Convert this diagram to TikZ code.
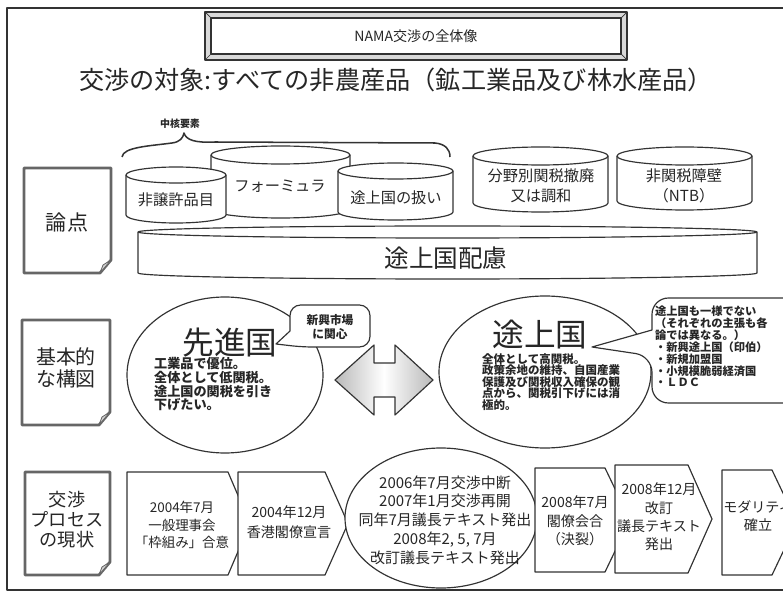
\documentclass[tikz,border=0pt]{standalone}
\usepackage{fontspec}
\setmainfont{Noto Sans CJK JP}
\usetikzlibrary{calc}
\newcommand\fsz[2]{\fontsize{#1}{#2}\selectfont}
\newcommand\cyl[5]{%
  \pgfmathsetmacro\cylrx{(#2-#1)/2}%
  \draw[cylbody] (#1,#3) -- (#1,#4) arc[start angle=180,end angle=0,x radius=\cylrx,y radius=#5] -- (#2,#3) arc[start angle=0,end angle=-180,x radius=\cylrx,y radius=#5] -- cycle;
  \draw[ln] (#1,#3) arc[start angle=180,end angle=0,x radius=\cylrx,y radius=#5];
}
\newcommand\docbox[4]{%
  \draw[docframe] (#1,#2) -- (#3,#2) -- (#3,#4-13) -- (#3-11,#4) -- (#1,#4) -- cycle;
  \draw[fill=gray!35, draw=black!60, line width=0.7pt] (#3,#4-13) -- (#3-8,#4-8) -- (#3-11,#4) -- cycle;
}
\newcommand\home[5]{%
  \draw[ln, fill=white] (#1,#2) -- (#4,#2) -- (#5,{(#2+#3)/2}) -- (#4,#3) -- (#1,#3) -- cycle;
}
\begin{document}
\begin{tikzpicture}[x=0.03cm,y=-0.03cm, line join=round,
  ln/.style={draw=black!80, line width=1pt},
  cylbody/.style={ln, fill=white},
  docframe/.style={draw=black!60, line width=2.4pt, fill=white},
  every node/.style={inner sep=0pt, align=center, text=black!85}]
\useasboundingbox (0,0) rectangle (783,598);
% outer frame
\draw[ln] (800,8) -- (7,8) -- (7,590) -- (800,590);
% title
\path[fill=gray!30] (205,12) rectangle (627,60);
\path[fill=white] (211,18) rectangle (621,54);
\draw[ln] (205,12) rectangle (627,60);
\draw[ln] (211,18) rectangle (621,54);
\draw[ln, line width=0.6pt] (205,12)--(211,18) (627,12)--(621,18) (205,60)--(211,54) (627,60)--(621,54);
\node[font={\fsz{12}{14}}] (title) at (416,36) {NAMA交渉の全体像};
\node[font={\fsz{21.5}{24}}] (sub) at (396,80) {交渉の対象:すべての非農産品（鉱工業品及び林水産品）};
% brace
\node[font={\fsz{8.5}{10}\bfseries}] (core) at (180,124) {中核要素};
\draw[ln, line width=1.3pt] (122,157) .. controls (123,147) and (150,146) .. (172,143) .. controls (180,142) and (183,138) .. (184,133) .. controls (186,140) and (195,143) .. (215,142) -- (435,143) .. controls (445,144) and (450,149) .. (450,157);
% cylinders
\cyl{211}{350}{155}{209}{9}
\node[font={\fsz{13}{15}}] (formula) at (280,186) {フォーミュラ};
\cyl{126}{226}{175}{215}{8}
\node[font={\fsz{13}{15}}] (hijo) at (176,200) {非譲許品目};
\cyl{338}{453}{171}{212}{8}
\node[font={\fsz{13}{15}}] (tojo) at (396,198) {途上国の扱い};
\cyl{473}{608}{156}{203}{9}
\node[font={\fsz{13}{17}}] (bunya) at (541,186) {分野別関税撤廃\\又は調和};
\cyl{617}{752}{156}{201}{9}
\node[font={\fsz{13}{17}}] (ntb) at (684,186) {非関税障壁\\（NTB）};
\cyl{138}{757}{232}{273}{6}
\node[font={\fsz{21}{24}}] (hairyo) at (446,258) {途上国配慮};
% doc labels
\docbox{24}{168}{111}{273}
\node[font={\fsz{18}{20}}] (l1) at (67,222) {論点};
\docbox{22}{320}{110}{425}
\node[font={\fsz{17}{19}}] (l2) at (66,368) {基本的\\な構図};
\docbox{25}{472}{110}{575}
\node[font={\fsz{15.5}{17}}] (l3) at (67,520) {交渉\\プロセス\\の現状};
% developed countries
\draw[ln, fill=white] (225,375) ellipse [x radius=98, y radius=78];
\node[font={\fsz{27}{30}}] (senshin) at (230,343) {先進国};
\node[anchor=north west, align=left, font={\fsz{11.2}{11.8}\bfseries}] (senbody) at (154,357) {工業品で優位。\\全体として低関税。\\途上国の関税を引き\\下げたい。};
\draw[ln, fill=white] (276,344) -- (290,331) [rounded corners=9] -- (290,305) -- (370,305) -- (370,347) -- (302,347) [sharp corners] -- cycle;
\node[font={\fsz{10}{12}\bfseries}] (shinko) at (330,327) {新興市場\\に関心};
% double arrow
\path[draw=black!80, line width=1pt, left color=gray!55, right color=gray!55, middle color=white]
  (335,380) -- (374,345) -- (374,363) -- (395,363) -- (395,345) -- (433,380) -- (395,415) -- (395,397) -- (374,397) -- (374,415) -- cycle;
% developing countries
\draw[ln, fill=white] (545,372) ellipse [x radius=106, y radius=76];
\node[font={\fsz{27}{30}}] (tojokoku) at (540,335) {途上国};
\node[anchor=north west, align=left, font={\fsz{9.8}{9.8}\bfseries}] (tojobody) at (482,353) {全体として高関税。\\政策余地の維持、自国産業\\保護及び関税収入確保の観\\点から、関税引下げには消\\極的。};
\draw[ln, fill=white] (592,347) -- (652,330) [rounded corners=14] -- (652,298) -- (820,298) -- (820,403) -- (652,403) -- (652,356) [sharp corners] -- cycle;
\node[anchor=north west, align=left, font={\fsz{9.6}{9}\bfseries}] (variety) at (655,306) {途上国も一様でない\\（それぞれの主張も各\\論では異なる。）\\・新興途上国（印伯）\\・新規加盟国\\・小規模脆弱経済国\\・ＬＤＣ};
% process
\home{127}{472}{575}{228}{250}
\home{238}{472}{575}{325}{348}
\draw[ln, fill=white] (441,518) ellipse [x radius=96, y radius=70];
\home{535}{468}{572}{605}{630}
\home{615}{465}{573}{688}{712}
\home{722}{470}{575}{772}{797}
\node[font={\fsz{11.5}{15}}] (b1) at (182,525) {2004年7月\\一般理事会\\「枠組み」合意};
\node[font={\fsz{12}{17}}] (b2) at (289,522) {2004年12月\\香港閣僚宣言};
\node[font={\fsz{12.8}{16}}] (e) at (445,520) {2006年7月交渉中断\\2007年1月交渉再開\\同年7月議長テキスト発出\\2008年2, 5, 7月\\改訂議長テキスト発出};
\node[font={\fsz{12}{15.7}}] (b3) at (575,521) {2008年7月\\閣僚会合\\（決裂）};
\node[font={\fsz{12}{15.6}}] (b4) at (659,517) {2008年12月\\改訂\\議長テキスト\\発出};
\node[font={\fsz{12}{15.5}}] (b5) at (758,516) {モダリティ\\確立};
\end{tikzpicture}
\end{document}
